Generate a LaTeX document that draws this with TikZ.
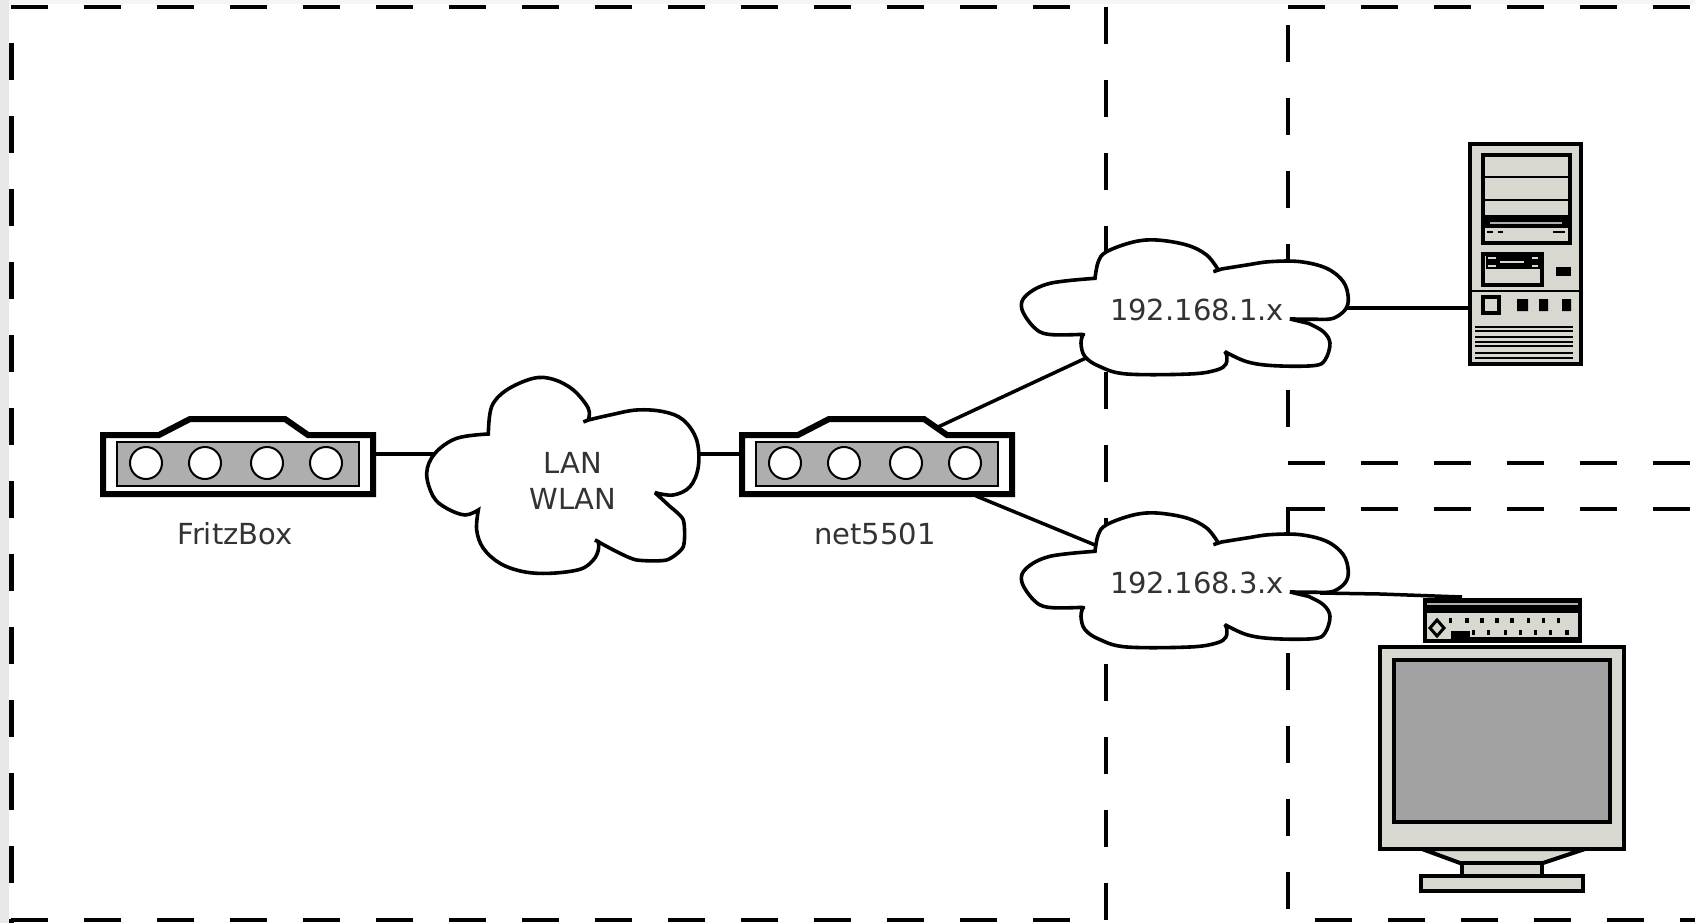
\documentclass[tikz,border=0pt]{standalone}
\usepackage{fontspec}
\setmainfont{DejaVu Sans}
\pgfdeclarelayer{back}
\pgfsetlayers{back,main}
\definecolor{casefill}{HTML}{D8D8D0}
\definecolor{panel}{HTML}{AEAEAE}
\definecolor{screen}{HTML}{A2A2A2}
\definecolor{txt}{HTML}{333333}
\tikzset{
  dashline/.style={line width=4.6pt,black,dash pattern=on 37pt off 36pt},
  link/.style={line width=3.5pt,black},
  netline/.style={line width=3.6pt,black,fill=white,line join=miter,miter limit=3},
  tag/.style={font=\fontsize{29}{36}\selectfont,text=txt,inner sep=0pt,align=center},
  place/.style={inner sep=0pt,outer sep=0pt},
  cloudshape/.pic={
    \begin{scope}[x=0.3333pt,y=-0.3333pt]
    \draw[netline]
      plot[smooth,tension=.6] coordinates {(285,175)(295,125)(320,95)(400,66)(470,60)(560,75)(620,105)(655,150)}
      -- (640,155)
      -- plot[smooth,tension=.6] coordinates {(665,147)(740,135)(810,125)(900,125)(980,145)(1030,185)(1045,235)(1035,270)(1000,295)(960,298)}
      -- (870,297)
      -- plot[smooth,tension=.6] coordinates {(925,310)(970,335)(990,370)(975,420)(940,437)(820,437)(740,425)(675,395)}
      -- plot[smooth,tension=.6] coordinates {(680,405)(678,432)(650,450)(570,462)(380,462)(300,440)(255,410)(243,370)(250,340)}
      -- plot[smooth,tension=.6] coordinates {(250,343)(145,343)(100,320)(65,265)(80,225)(150,190)(285,175)}
      -- cycle;
    \end{scope}
  },
  lancloud/.pic={
    \begin{scope}[x=0.3333pt,y=-0.3333pt]
    \draw[netline]
      plot[smooth,tension=.6] coordinates {(235,222)(245,140)(290,90)(370,55)(430,58)(490,90)(535,145)(535,180)}
      -- (520,186)
      -- plot[smooth,tension=.6] coordinates {(535,180)(600,165)(680,150)(760,155)(820,180)(860,240)(865,320)(840,380)(790,405)(735,398)}
      -- plot[smooth,tension=.4] coordinates {(735,398)(775,435)(820,480)(820,560)(770,600)(680,600)(620,575)(555,540)}
      -- plot[smooth,tension=.6] coordinates {(565,545)(565,570)(550,600)(510,628)(420,640)(340,635)(270,610)(220,565)(200,510)(205,450)}
      -- plot[smooth,tension=.6] coordinates {(205,450)(165,465)(110,445)(70,410)(50,340)(75,280)(140,235)(235,222)}
      -- cycle;
    \end{scope}
  },
  routershape/.pic={
    \draw[line width=6pt,black,fill=white,line join=miter]
      (3,3) -- (59,3) -- (90,-13) -- (185,-13) -- (208,3) -- (273,3) -- (273,62) -- (3,62) -- cycle;
    \draw[line width=2pt,black,fill=panel] (17,10) rectangle (259,54);
    \foreach \cx in {46,105,167,226}
      \draw[line width=2pt,black,fill=white] (\cx,31) circle (16);
  },
}
\begin{document}
\begin{tikzpicture}[x=1pt,y=-1pt]
\useasboundingbox (0,0) rectangle (1695,923);
\begin{pgfonlayer}{back}
  \fill[white] (0,0) rectangle (1695,923);
  \fill[black!4!white] (0,0) rectangle (1695,4.5);
  \fill[black!9!white] (0,0) rectangle (9,923);
  % zones
  \draw[dashline] (11,7) -- (1106,7);
  \draw[dashline] (1288,7) -- (1695,7);
  \draw[dashline] (11,920) -- (1106,920);
  \draw[dashline] (1315,920) -- (1695,920);
  \draw[dashline] (11.3,43) -- (11.3,923);
  \draw[dashline] (1106,7) -- (1106,920);
  \draw[dashline] (1288,25) -- (1288,430);
  \draw[dashline] (1288,463) -- (1695,463);
  \draw[dashline] (1288,509) -- (1695,509);
  \draw[dashline] (1288,507) -- (1288,920);
\end{pgfonlayer}

% --- routers
\node[place,minimum width=276pt,minimum height=65pt] (fritz) at (238,464.5) {};
\node[place,minimum width=276pt,minimum height=65pt] (net) at (877,464.5) {};
\pic at (100,432) {routershape};
\pic at (739,432) {routershape};
\node[tag] (fritzlabel) at (235,533.5) {FritzBox};
\node[tag] (netlabel) at (875,533.5) {net5501};

% --- clouds
\pic at (410,360) {lancloud};
\pic at (1000,220) {cloudshape};
\pic at (1000,493) {cloudshape};
\node[tag] (lan) at (573,481) {LAN\\WLAN};
\node[tag] (sub1) at (1197,310) {192.168.1.x};
\node[tag] (sub3) at (1197,583) {192.168.3.x};
\coordinate (lanL) at (436,454);
\coordinate (lanR) at (697,454);
\coordinate (sub1L) at (1086,358);
\coordinate (sub3L) at (1095,545);
\coordinate (sub1R) at (1346,308);
\coordinate (sub3R) at (1320,593);
\coordinate (netUp) at (938,427);
\coordinate (netDown) at (976,496);
\coordinate (deskBend) at (1380,594);

% --- tower PC
\node[place,draw=black,line width=4pt,fill=casefill,minimum width=111pt,minimum height=220pt] (pc) at (1525.5,254) {};
\draw[line width=4pt,fill=casefill] (1483,155) rectangle (1570,243);
\draw[line width=2pt] (1483,177) -- (1570,177) (1483,200) -- (1570,200);
\fill[black] (1483,215) rectangle (1570,228);
\draw[line width=2pt,panel] (1490,223) -- (1562,223);
\draw[line width=2.5pt] (1487,232) -- (1493,232) (1498,232) -- (1503,232) (1553,232) -- (1565,232);
\draw[line width=4pt,fill=casefill] (1483,254) rectangle (1542,285);
\fill[black] (1486,254) rectangle (1540,269);
\draw[line width=2pt,casefill] (1488,258) -- (1496,258) (1532,258) -- (1538,258) (1500,262) -- (1524,262) (1488,266) -- (1496,266) (1532,266) -- (1538,266);
\fill[black] (1556,267) rectangle (1571,276);
\draw[line width=2pt] (1470,291) -- (1581,291);
\draw[line width=4pt,fill=casefill] (1483,297) rectangle (1499,313);
\fill[black] (1517,299) rectangle (1528,311) (1539,299) rectangle (1548,311) (1562,299) rectangle (1571,311);
\draw[line width=2pt] \foreach \vy in {327,331,337,342,346,353,358} {(1475,\vy) -- (1573,\vy)};

% --- desktop box
\node[place,draw=black,line width=3.5pt,fill=casefill,minimum width=155pt,minimum height=41pt] (desk) at (1502.5,620.5) {};
\fill[black] (1423,598) rectangle (1582,613);
\draw[line width=2pt,panel] (1427,604) -- (1578,604);
\foreach \kx in {270,320,365,410,455,505,550,595}
  \fill[black] ({1360+\kx/3},620) ++(-1.5,-2.5) rectangle ++(3.5,5);
\foreach \kx in {340,385,435,480,525,570,620}
  \fill[black] ({1360+\kx/3},632) ++(-1.5,-2.5) rectangle ++(3.5,5);
\draw[line width=2pt] (1470,638) -- (1580,638);
\draw[line width=3pt,fill=casefill] (1437,620) -- (1444,628) -- (1437,636) -- (1430,628) -- cycle;
\fill[black] (1451,631) rectangle (1470,640);

% --- monitor
\draw[line width=4pt,fill=casefill,line join=miter] (1422,849) -- (1460,863) -- (1543,863) -- (1585,849) -- cycle;
\draw[line width=3.5pt,fill=casefill] (1462,863) rectangle (1542,877);
\draw[line width=3.5pt,fill=casefill] (1421,876) rectangle (1583,891);
\node[place,draw=black,line width=4pt,fill=casefill,minimum width=244pt,minimum height=202pt] (mon) at (1502,748) {};
\draw[line width=4pt,fill=screen] (1394,660) rectangle (1610,822);

% --- connectors
\begin{pgfonlayer}{back}
  \draw[link] (fritz.east |- lanL) -- (lanL);
  \draw[link] (lanR) -- (net.west |- lanR);
  \draw[link] (netUp) -- (sub1L);
  \draw[link] (netDown) -- (sub3L);
  \draw[link] (sub1R) -- (pc.west |- sub1R);
\end{pgfonlayer}
\draw[link] (sub3R) -- (deskBend) -- (1462,597);
\end{tikzpicture}
\end{document}
